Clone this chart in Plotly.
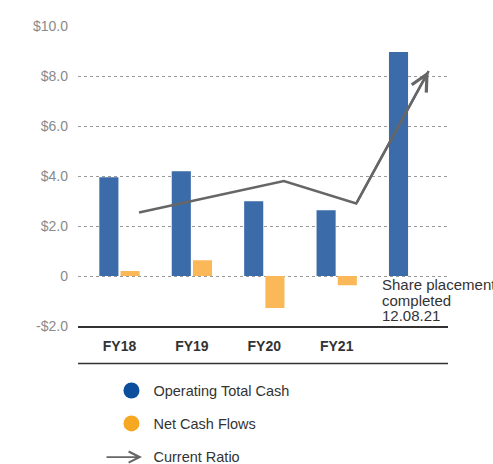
import plotly.graph_objects as go

categories = ["FY18", "FY19", "FY20", "FY21", "Placement"]
tick_labels = ["FY18", "FY19", "FY20", "FY21"]
operating_total_cash = [3.95, 4.19, 2.99, 2.63, 8.96]
net_cash_flows = [0.20, 0.63, -1.28, -0.37, None]
current_ratio = [2.54, 3.17, 3.80, 2.90, 8.20]
y_tick_vals = [-2, 0, 2, 4, 6, 8, 10]
y_tick_text = ["-$2.0", "0", "$2.0", "$4.0", "$6.0", "$8.0", "$10.0"]
note_lines = ["Share placement", "completed", "12.08.21"]

FONT = "Liberation Sans, Arial, sans-serif"
BLUE_BAR = "#3b6ba8"
ORANGE_BAR = "#fbb858"
BLUE_LEG = "#0b4f9c"
ORANGE_LEG = "#f7a823"
LINE = "#666666"
XR = [-0.573, 4.537]
LINE_OFFSET = 0.27

fig = go.Figure()
fig.add_trace(go.Bar(x=categories, y=operating_total_cash, marker=dict(color=BLUE_BAR, line=dict(width=0)),
                     showlegend=False, name="Operating Total Cash"))
fig.add_trace(go.Bar(x=categories, y=net_cash_flows, marker=dict(color=ORANGE_BAR, line=dict(width=0)),
                     showlegend=False, name="Net Cash Flows"))

line_x = [i + LINE_OFFSET for i in range(len(categories))]
fig.add_trace(go.Scatter(x=line_x, y=current_ratio, xaxis="x2", yaxis="y", mode="lines",
                         line=dict(color=LINE, width=2.5), showlegend=False, name="Current Ratio"))

# legend entries
fig.add_trace(go.Scatter(x=[None], y=[None], mode="markers", name="Operating Total Cash",
                         marker=dict(symbol="circle", size=16, color=BLUE_LEG), legendgroup="a"))
fig.add_trace(go.Scatter(x=[None], y=[None], mode="markers", name="Net Cash Flows",
                         marker=dict(symbol="circle", size=16, color=ORANGE_LEG), legendgroup="b"))
fig.add_trace(go.Scatter(x=[None], y=[None], mode="lines", name="Current Ratio",
                         line=dict(color="rgba(0,0,0,0)", width=2), legendgroup="c"))

# arrowhead on last segment
fig.add_annotation(x=line_x[-1], y=current_ratio[-1], ax=line_x[-2], ay=current_ratio[-2],
                   xref="x2", yref="y", axref="x2", ayref="y", text="", showarrow=True,
                   arrowhead=5, arrowsize=1.3, arrowwidth=2.5, arrowcolor=LINE)

# arrow symbol for the "Current Ratio" legend entry
fig.add_annotation(x=0.173, y=-0.437, xref="paper", yref="paper", ax=-37, ay=0,
                   text="", showarrow=True, arrowhead=5, arrowsize=1.2, arrowwidth=1.8,
                   arrowcolor=LINE)

for i, txt in enumerate(note_lines):
    fig.add_annotation(x=categories[-1], y=0, xref="x", yref="y", text=txt, showarrow=False,
                       xanchor="left", yanchor="top", align="left", xshift=-29,
                       yshift=2 - 15.5 * i,
                       font=dict(family=FONT, size=15, color="#333333"))

# second separator line below the category labels
fig.add_shape(type="line", xref="paper", yref="paper", x0=0, x1=1, y0=-0.125, y1=-0.125,
              line=dict(color="#333333", width=1.5))

fig.update_layout(
    width=493, height=464,
    margin=dict(l=78, r=45, t=26, b=138, autoexpand=False),
    paper_bgcolor="white", plot_bgcolor="white",
    barmode="group", bargap=0.414, bargroupgap=0.1,
    font=dict(family=FONT, color="#333333"),
    xaxis=dict(type="category", range=XR, tickvals=tick_labels, ticktext=tick_labels,
               showgrid=False, zeroline=False, showline=True, linecolor="#333333", linewidth=1.5,
               ticks="", ticklabelstandoff=6,
               tickfont=dict(family=FONT, size=14, color="#333333", weight="bold")),
    xaxis2=dict(overlaying="x", range=XR, visible=False, type="linear"),
    yaxis=dict(range=[-2, 10], tickvals=y_tick_vals, ticktext=y_tick_text,
               showgrid=True, gridcolor="#9a9a9a", griddash="dot", gridwidth=1,
               zeroline=False, showline=False, ticks="", ticklabelstandoff=9,
               tickfont=dict(family=FONT, size=14, color="#8a8a8a")),
    legend=dict(x=0.085, y=-0.162, xanchor="left", yanchor="top", traceorder="grouped",
                tracegroupgap=11, itemwidth=34, font=dict(family=FONT, size=14.5, color="#333333"),
                bgcolor="rgba(0,0,0,0)"),
    showlegend=True,
)

fig.write_html("out.html", config={"displayModeBar": False},
               post_script="document.body.style.margin='0';document.body.style.overflow='hidden';")
